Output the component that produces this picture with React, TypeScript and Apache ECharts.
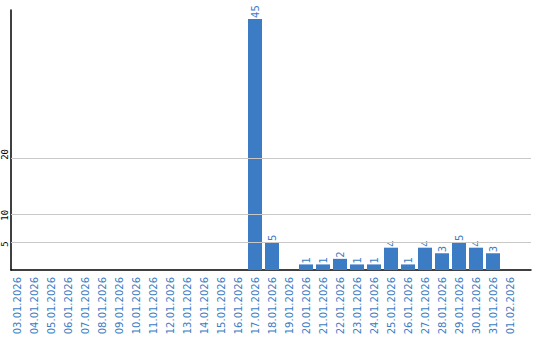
import React, { useEffect, useRef } from "react";
import * as echarts from "echarts";

const categories = [
  "03.01.2026", "04.01.2026", "05.01.2026", "06.01.2026", "07.01.2026",
  "08.01.2026", "09.01.2026", "10.01.2026", "11.01.2026", "12.01.2026",
  "13.01.2026", "14.01.2026", "15.01.2026", "16.01.2026", "17.01.2026",
  "18.01.2026", "19.01.2026", "20.01.2026", "21.01.2026", "22.01.2026",
  "23.01.2026", "24.01.2026", "25.01.2026", "26.01.2026", "27.01.2026",
  "28.01.2026", "29.01.2026", "30.01.2026", "31.01.2026", "01.02.2026",
];
const values = [
  0, 0, 0, 0, 0, 0, 0, 0, 0, 0, 0, 0, 0, 0, 45,
  5, 0, 1, 1, 2, 1, 1, 4, 1, 4, 3, 5, 4, 3, 0,
];
const yTicks = [5, 10, 20];
const yMax = 46.6;

const BLUE = "#3b7cc4";

const labelFont = { fontSize: 9, fontFamily: "DejaVu Sans Mono", color: "#000" };

export default function App() {
  const ref = useRef<HTMLDivElement>(null);
  useEffect(() => {
    document.body.style.margin = "0";
    if (!ref.current) return;
    const chart = echarts.init(ref.current, undefined, { renderer: "svg" });
    chart.setOption({
      animation: false,
      grid: [
        { left: 11, right: 9, top: 10, bottom: 70 },
        { left: 8.5, width: 510, top: 10, bottom: 70 },
      ],
      xAxis: [
        {
          type: "value",
          gridIndex: 0,
          min: 0,
          max: 1,
          axisLine: { show: true, lineStyle: { color: "#000", width: 1.5 } },
          axisTick: { show: false },
          axisLabel: { show: false },
          splitLine: { show: false },
        },
        {
          type: "category",
          gridIndex: 1,
          data: categories,
          axisLine: { show: false },
          axisTick: { show: false },
          axisLabel: {
            interval: 0,
            rotate: 90,
            margin: 7,
            color: BLUE,
            fontSize: 10,
            fontFamily: "DejaVu Sans",
          },
        },
      ],
      yAxis: [
        {
          type: "value",
          gridIndex: 0,
          min: 0,
          max: yMax,
          interval: 5,
          axisLine: { show: true, lineStyle: { color: "#000", width: 1.5 } },
          axisTick: { show: false },
          axisLabel: {
            showMinLabel: false,
            showMaxLabel: false,
            formatter: (v: number) =>
              yTicks.includes(v) ? `{t${v}|${v}}` : "",
            rotate: 90,
            align: "center",
            verticalAlign: "bottom",
            margin: 2,
            ...labelFont,
            rich: {
              t5: { ...labelFont, padding: [0, 4, 0, 0] },
              t10: { ...labelFont, padding: [0, 2, 0, 0] },
              t20: { ...labelFont, padding: [0, 0, 0, 8] },
            },
          },
          splitLine: { show: false },
        },
        {
          type: "value",
          gridIndex: 1,
          min: 0,
          max: yMax,
          axisLine: { show: false },
          axisTick: { show: false },
          axisLabel: { show: false },
          splitLine: { show: false },
        },
      ],
      series: [
        {
          type: "line",
          xAxisIndex: 0,
          yAxisIndex: 0,
          data: [],
          silent: true,
          markLine: {
            silent: true,
            symbol: "none",
            lineStyle: { color: "#c8c8c8", width: 1, type: "solid" },
            label: { show: false },
            data: yTicks.map((v) => ({ yAxis: v })),
          },
        },
        {
          type: "bar",
          xAxisIndex: 1,
          yAxisIndex: 1,
          data: values,
          barWidth: 14,
          itemStyle: { color: BLUE },
          label: {
            show: true,
            position: "top",
            rotate: 90,
            align: "left",
            verticalAlign: "middle",
            distance: 1,
            color: BLUE,
            fontSize: 10,
            fontFamily: "DejaVu Sans",
            formatter: (p: any) => (p.value ? String(p.value) : ""),
          },
        },
      ],
    });
    return () => chart.dispose();
  }, []);
  return <div ref={ref} style={{ width: 540, height: 340 }} />;
}
